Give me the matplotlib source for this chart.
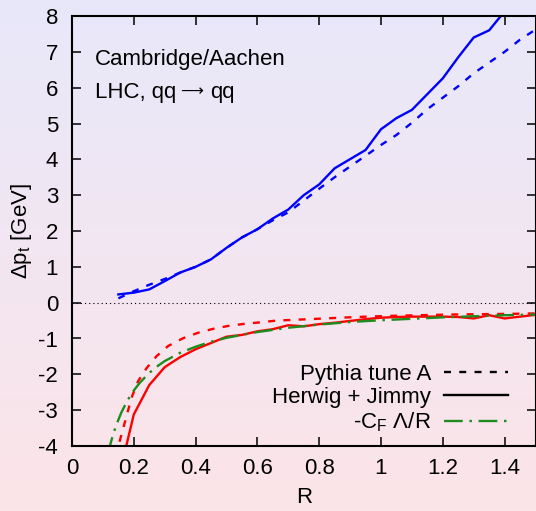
import numpy as np
import matplotlib
matplotlib.use("Agg")
import matplotlib.pyplot as plt
from matplotlib.colors import LinearSegmentedColormap
from matplotlib.lines import Line2D

plt.rcParams['font.family'] = ['Liberation Sans', 'DejaVu Sans']
plt.rcParams['mathtext.fontset'] = 'custom'
plt.rcParams['mathtext.rm'] = 'Liberation Sans'
plt.rcParams['mathtext.it'] = 'Liberation Sans'
plt.rcParams['lines.scale_dashes'] = False
plt.rcParams['axes.unicode_minus'] = False

# ---- data ----
r_herwig_up = [0.15, 0.2, 0.25, 0.3, 0.35, 0.4, 0.45, 0.5, 0.55, 0.6, 0.65, 0.7, 0.75, 0.8,
               0.85, 0.95, 1.0, 1.05, 1.1, 1.15, 1.2, 1.25, 1.3, 1.35, 1.4]
dpt_herwig_up = [0.23, 0.28, 0.37, 0.6, 0.84, 1.0, 1.21, 1.53, 1.82, 2.05, 2.35, 2.6, 3.0, 3.3,
                 3.75, 4.26, 4.84, 5.15, 5.38, 5.82, 6.26, 6.85, 7.4, 7.6, 8.13]

r_pythia_up = [0.15, 0.2, 0.25, 0.3, 0.35, 0.4, 0.45, 0.5, 0.55, 0.6, 0.65, 0.7, 0.75, 0.8,
               0.85, 0.9, 0.95, 1.0, 1.05, 1.1, 1.15, 1.2, 1.25, 1.3, 1.35, 1.4, 1.45, 1.5]
dpt_pythia_up = [0.12, 0.32, 0.5, 0.66, 0.84, 1.0, 1.21, 1.53, 1.82, 2.05, 2.3, 2.52, 2.85, 3.18,
                 3.5, 3.8, 4.1, 4.4, 4.68, 5.02, 5.4, 5.72, 6.04, 6.4, 6.7, 7.0, 7.34, 7.62]

r_herwig_dn = [0.17, 0.2, 0.25, 0.3, 0.35, 0.4, 0.5, 0.55, 0.6, 0.65, 0.7, 0.75, 0.8, 0.85,
               0.9, 0.95, 1.0, 1.05, 1.1, 1.2, 1.25, 1.3, 1.35, 1.4, 1.5]
dpt_herwig_dn = [-4.2, -3.12, -2.3, -1.8, -1.52, -1.3, -0.95, -0.9, -0.8, -0.74, -0.63, -0.66,
                 -0.6, -0.56, -0.51, -0.46, -0.42, -0.4, -0.39, -0.39, -0.4, -0.44, -0.35,
                 -0.44, -0.34]

r_pythia_dn = [0.145, 0.15, 0.166, 0.18, 0.195, 0.214, 0.241, 0.274, 0.311, 0.36, 0.408,
               0.457, 0.505, 0.559, 0.608, 0.662, 0.716, 0.818, 0.92, 1.023, 1.125, 1.233,
               1.335, 1.438, 1.5]
dpt_pythia_dn = [-4.3, -4.0, -3.5, -3.05, -2.6, -2.19, -1.83, -1.49, -1.21, -0.99, -0.84,
                 -0.73, -0.65, -0.59, -0.55, -0.50, -0.48, -0.44, -0.40, -0.37, -0.35, -0.33,
                 -0.32, -0.31, -0.30]

r_cf = [0.115, 0.12, 0.13, 0.14, 0.15, 0.16, 0.18, 0.2, 0.22, 0.25, 0.28, 0.3, 0.35, 0.4,
        0.45, 0.5, 0.6, 0.7, 0.8, 0.9, 1.0, 1.2, 1.4, 1.5]
dpt_cf = [-4.26, -4.08, -3.77, -3.5, -3.27, -3.06, -2.72, -2.45, -2.23, -1.96, -1.75, -1.63,
          -1.4, -1.23, -1.09, -0.98, -0.82, -0.70, -0.61, -0.54, -0.49, -0.41, -0.35, -0.33]

xticks = [0, 0.2, 0.4, 0.6, 0.8, 1, 1.2, 1.4]
xticklabels = ['0', '0.2', '0.4', '0.6', '0.8', '1', '1.2', '1.4']
yticks = [-4, -3, -2, -1, 0, 1, 2, 3, 4, 5, 6, 7, 8]
legend_labels = ['Pythia tune A', 'Herwig + Jimmy', r'-C$_{\rm F}$ Λ/R']

# ---- figure ----
W, H = 536, 511
FS = 16
fig = plt.figure(figsize=(W / 100, H / 100), dpi=100)

bg = fig.add_axes([0, 0, 1, 1], zorder=-10)
cmap = LinearSegmentedColormap.from_list('bg', ['#E8E8FA', '#FCE4E8'])
bg.imshow(np.linspace(0, 1, 256).reshape(-1, 1), aspect='auto', cmap=cmap,
          extent=[0, 1, 0, 1], origin='upper')
bg.axis('off')

left, right = 72 / W, 535.5 / W
bottom, top = 1 - 446 / H, 1 - 16 / H
ax = fig.add_axes([left, bottom, right - left, top - bottom])
ax.set_facecolor('none')

blue, red, green = '#0000FF', '#FF0000', '#1E8C1E'
lw = 1.7
dash = (0, (5, 6.0))
dashdot = (0, (13.5, 4.8, 1.8, 4.8))

ax.axhline(0, color='black', lw=0.8, ls=(0, (0.8, 2.2)), zorder=1)

ax.plot(r_pythia_up, dpt_pythia_up, color=blue, lw=lw, ls=dash)
ax.plot(r_herwig_up, dpt_herwig_up, color=blue, lw=lw, ls='-')
ax.plot(r_pythia_dn, dpt_pythia_dn, color=red, lw=lw, ls=dash)
ax.plot(r_herwig_dn, dpt_herwig_dn, color=red, lw=lw, ls='-')
ax.plot(r_cf, dpt_cf, color=green, lw=lw, ls=dashdot)

ax.set_xlim(0, 1.5)
ax.set_ylim(-4, 8)
ax.set_xticks(xticks)
ax.set_xticklabels(xticklabels)
ax.set_yticks(yticks)
ax.tick_params(direction='in', length=6.5, width=1.1, labelsize=FS, top=True, right=True,
               colors='black')
ax.tick_params(axis='x', pad=8.5)
ax.tick_params(axis='y', pad=10)
for s in ax.spines.values():
    s.set_linewidth(1.5)

ax.set_xlabel('R', fontsize=FS, labelpad=6)
ax.set_ylabel(r'Δp$_{\rm t}$ [GeV]', fontsize=FS, labelpad=3)

ax.text(0.074, 6.63, 'Cambridge/Aachen', fontsize=FS, va='baseline', ha='left')
ax.text(0.074, 5.70, 'LHC, qq', fontsize=FS, va='baseline', ha='left')
ax.text(0.349, 5.77, '⟶', fontsize=11.5, family='DejaVu Sans', va='baseline', ha='left')
ax.text(0.446, 5.70, 'qq', fontsize=FS, va='baseline', ha='left')

handles = [Line2D([], [], color='black', lw=lw, ls=dash),
           Line2D([], [], color='black', lw=lw, ls='-'),
           Line2D([], [], color=green, lw=lw, ls=dashdot)]
leg = ax.legend(handles, legend_labels, loc='lower right', bbox_to_anchor=(0.9407, 0.028),
                frameon=False, markerfirst=False, fontsize=FS, handlelength=2.88,
                handletextpad=0.58, labelspacing=0.1, borderaxespad=0, borderpad=0)
for t in leg.get_texts():
    t.set_ha('right')

fig.savefig('out.png', dpi=100)
